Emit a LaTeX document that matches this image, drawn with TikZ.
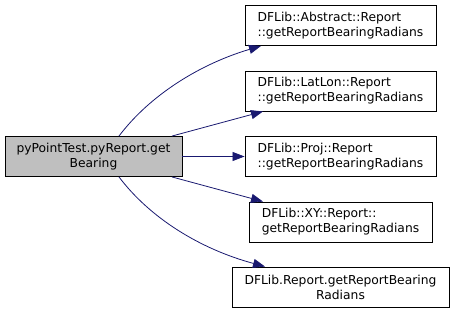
\documentclass[tikz,border=0pt]{standalone}
\usepackage{fontspec}
\setmainfont{DejaVu Sans}
\usetikzlibrary{arrows.meta}
\definecolor{edgeblue}{HTML}{191970}
\definecolor{nodegray}{HTML}{BFBFBF}
\begin{document}
\begin{tikzpicture}[x=1pt,y=-1pt,
  box/.style={draw=black, line width=0.9pt, fill=white, minimum height=40pt,
    inner sep=0pt, font=\fontsize{12.3}{15}\selectfont},
  callee/.style={box, align=left},
  caller/.style={box, fill=nodegray, align=center},
  call/.style={draw=edgeblue, line width=0.8pt,
    -{Triangle[length=12pt,width=9pt,fill=edgeblue]}}]
  \useasboundingbox (0,0) rectangle (455,313);

  \node[caller, minimum width=177pt] (src) at (93.5,156.5)
    {pyPointTest.pyReport.get\\Bearing};

  \node[callee, minimum width=191pt] (t1) at (340.5,25.5)
    {DFLib::Abstract::Report\\::getReportBearingRadians};
  \node[callee, minimum width=191pt] (t2) at (340.5,91)
    {DFLib::LatLon::Report\\::getReportBearingRadians};
  \node[callee, minimum width=191pt] (t3) at (340.5,156.5)
    {DFLib::Proj::Report\\::getReportBearingRadians};
  \node[callee, minimum width=183pt] (t4) at (340.5,222)
    {DFLib::XY::Report::\\getReportBearingRadians};
  \node[box, align=center, minimum width=217pt] (t5) at (340.5,287)
    {DFLib.Report.getReportBearing\\Radians};

  \draw[call] ([xshift=25.5pt]src.north) .. controls (150,95) and (200,64) .. ([xshift=-79.5pt]t1.south);
  \draw[call] ([xshift=78.5pt]src.north) -- ([xshift=-77.5pt]t2.south);
  \draw[call] (src.east) -- (t3.west);
  \draw[call] ([xshift=78.5pt]src.south) -- ([xshift=-77.5pt]t4.north);
  \draw[call] ([xshift=25.5pt]src.south) .. controls (150,218) and (200,249) .. ([xshift=-75.5pt]t5.north);
\end{tikzpicture}
\end{document}
